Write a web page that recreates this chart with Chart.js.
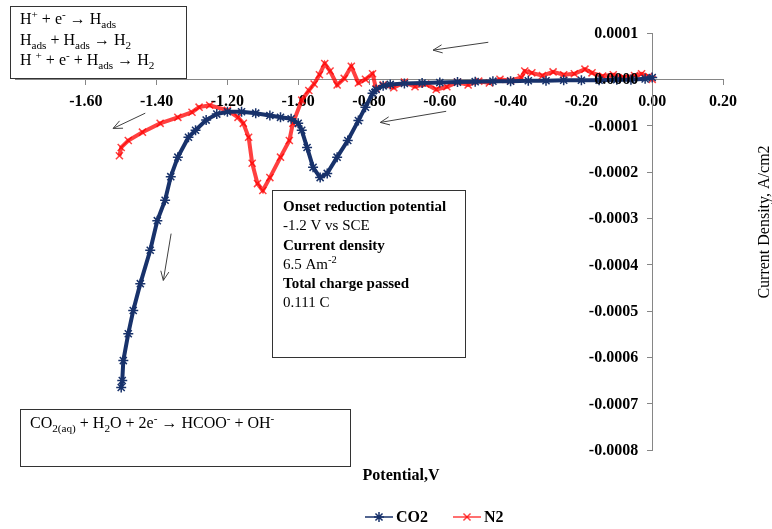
<!DOCTYPE html>
<html>
<head>
<meta charset="utf-8">
<script src="https://cdn.jsdelivr.net/npm/chart.js@4.4.1/dist/chart.umd.min.js"></script>
<style>
  html, body { margin: 0; padding: 0; background: #fff; }
  #wrap { width: 772px; height: 529px; position: relative; }
</style>
</head>
<body>
<div id="wrap"><canvas id="cv"></canvas></div>
<script>
// CO2 sweep (potential in V, current density in A/cm2)
const co2Potential = [0.00, -0.02, -0.06, -0.10, -0.15, -0.20, -0.25, -0.30, -0.35, -0.40, -0.45, -0.50, -0.55, -0.60, -0.65, -0.70, -0.74, -0.76, -0.78, -0.79, -0.81, -0.83, -0.86, -0.89, -0.918, -0.938, -0.958, -0.975, -0.99, -1.00, -1.02, -1.05, -1.08, -1.12, -1.16, -1.20, -1.23, -1.26, -1.29, -1.31, -1.34, -1.36, -1.376, -1.398, -1.418, -1.446, -1.466, -1.48, -1.494, -1.497, -1.50];
const co2Current = [0.000004, 0.000001, -0.000001, -0.000001, -0.000002, -0.000002, -0.000002, -0.000003, -0.000003, -0.000004, -0.000004, -0.000005, -0.000006, -0.000007, -0.000008, -0.000009, -0.000011, -0.000014, -0.000022, -0.000030, -0.000060, -0.000089, -0.000132, -0.000168, -0.000203, -0.000212, -0.000190, -0.000147, -0.000110, -0.000095, -0.000085, -0.000082, -0.000078, -0.000073, -0.000070, -0.000070, -0.000075, -0.000088, -0.000110, -0.000125, -0.000168, -0.000210, -0.000261, -0.000305, -0.000369, -0.000441, -0.000499, -0.000549, -0.000607, -0.000650, -0.000665];

// N2 sweep
const n2Potential = [0.00, -0.01, -0.03, -0.05, -0.08, -0.11, -0.14, -0.17, -0.19, -0.22, -0.25, -0.28, -0.31, -0.34, -0.36, -0.37, -0.40, -0.43, -0.46, -0.49, -0.52, -0.55, -0.58, -0.61, -0.64, -0.67, -0.70, -0.73, -0.76, -0.78, -0.79, -0.81, -0.83, -0.85, -0.87, -0.89, -0.91, -0.925, -0.94, -0.955, -0.97, -0.99, -1.015, -1.025, -1.05, -1.08, -1.10, -1.115, -1.13, -1.14, -1.155, -1.17, -1.20, -1.25, -1.28, -1.30, -1.34, -1.39, -1.44, -1.48, -1.50, -1.505];
const n2Current = [0.000000, 0.000006, 0.000012, 0.000008, 0.000004, 0.000010, 0.000007, 0.000014, 0.000022, 0.000012, 0.000010, 0.000016, 0.000008, 0.000014, 0.000018, 0.000004, -0.000003, 0.000000, -0.000008, -0.000004, -0.000012, -0.000006, -0.000016, -0.000022, -0.000010, -0.000016, -0.000006, -0.000018, -0.000012, -0.000020, 0.000012, 0.000000, -0.000008, 0.000028, 0.000002, -0.000012, 0.000018, 0.000034, 0.000010, -0.000010, -0.000024, -0.000045, -0.000095, -0.000132, -0.000168, -0.000212, -0.000240, -0.000225, -0.000181, -0.000125, -0.000095, -0.000082, -0.000067, -0.000056, -0.000060, -0.000071, -0.000082, -0.000095, -0.000114, -0.000132, -0.000147, -0.000165];

const seriesNames = ['CO2', 'N2'];
const xTickValues = [-1.6, -1.4, -1.2, -1.0, -0.8, -0.6, -0.4, -0.2, 0.0, 0.2];
const yTickValues = [0.0001, 0, -0.0001, -0.0002, -0.0003, -0.0004, -0.0005, -0.0006, -0.0007, -0.0008];

const NAVY = '#18326b';
const RED = 'rgba(255,0,0,0.75)';
const SERIF = '"Liberation Serif", "Times New Roman", serif';

// sweep-direction arrows, in data units [V1, J1, V2, J2] (head at the second end)
const arrows = [
  [-0.463, 0.000080, -0.619, 0.000063],
  [-1.432, -0.000073, -1.523, -0.000106],
  [-0.582, -0.000069, -0.768, -0.000093],
  [-1.359, -0.000333, -1.381, -0.000434]
];

const toPoints = (xs, ys) => xs.map((x, i) => ({ x: x, y: ys[i] }));

// draws text with sub/superscripts; parts = [[text, mode]] mode 1 = sup, -1 = sub
function rich(ctx, x, y, parts, size, weight) {
  let cx = x;
  parts.forEach(([t, m]) => {
    const s = m ? size * 0.7 : size;
    ctx.font = `${weight} ${s}px ${SERIF}`;
    const dy = m === 1 ? -size * 0.38 : m === -1 ? size * 0.24 : 0;
    ctx.fillText(t, cx, y + dy);
    cx += ctx.measureText(t).width;
  });
}

function arrow(ctx, x1, y1, x2, y2) {
  const a = Math.atan2(y2 - y1, x2 - x1);
  const h = 10, w = 0.42;
  ctx.beginPath();
  ctx.moveTo(x1, y1);
  ctx.lineTo(x2, y2);
  ctx.moveTo(x2 - h * Math.cos(a - w), y2 - h * Math.sin(a - w));
  ctx.lineTo(x2, y2);
  ctx.lineTo(x2 - h * Math.cos(a + w), y2 - h * Math.sin(a + w));
  ctx.stroke();
}

function box(ctx, x, y, w, h) {
  ctx.fillStyle = '#fff';
  ctx.fillRect(x, y, w, h);
  ctx.strokeStyle = '#333';
  ctx.lineWidth = 1;
  ctx.strokeRect(x + 0.5, y + 0.5, w, h);
}

const overlay = {
  id: 'overlay',
  afterDraw(chart) {
    const ctx = chart.ctx;
    const sx = chart.scales.x, sy = chart.scales.y;
    ctx.save();

    // y tick labels, left of the centred axis
    ctx.fillStyle = '#000';
    ctx.font = `bold 16px ${SERIF}`;
    ctx.textAlign = 'right';
    ctx.textBaseline = 'middle';
    const x0 = sx.getPixelForValue(0);
    yTickValues.forEach(v => {
      ctx.fillText(v.toFixed(4), x0 - 14, sy.getPixelForValue(v) + 1);
    });

    // arrows
    ctx.strokeStyle = '#404040';
    ctx.lineWidth = 1;
    arrows.forEach(a => arrow(ctx,
      sx.getPixelForValue(a[0]), sy.getPixelForValue(a[1]),
      sx.getPixelForValue(a[2]), sy.getPixelForValue(a[3])));

    ctx.textAlign = 'left';
    ctx.textBaseline = 'alphabetic';

    // reaction box, top left
    box(ctx, 10, 6, 176, 72);
    ctx.fillStyle = '#000';
    rich(ctx, 20, 24, [['H', 0], ['+', 1], [' + e', 0], ['-', 1], [' \u2192 H', 0], ['ads', -1]], 16, 'normal');
    rich(ctx, 20, 45, [['H', 0], ['ads', -1], [' + H', 0], ['ads', -1], [' \u2192 H', 0], ['2', -1]], 16, 'normal');
    rich(ctx, 20, 65, [['H ', 0], ['+', 1], [' + e', 0], ['-', 1], [' + H', 0], ['ads', -1], [' \u2192 H', 0], ['2', -1]], 16, 'normal');

    // info box, middle
    box(ctx, 272, 190, 193, 167);
    ctx.fillStyle = '#000';
    rich(ctx, 283, 211, [['Onset reduction potential', 0]], 15, 'bold');
    rich(ctx, 283, 230, [['-1.2 V vs SCE', 0]], 15, 'normal');
    rich(ctx, 283, 250, [['Current density', 0]], 15, 'bold');
    rich(ctx, 283, 269, [['6.5 Am', 0], ['-2', 1]], 15, 'normal');
    rich(ctx, 283, 288, [['Total charge passed', 0]], 15, 'bold');
    rich(ctx, 283, 307, [['0.111 C', 0]], 15, 'normal');

    // formate box, bottom left
    box(ctx, 20, 409, 330, 57);
    ctx.fillStyle = '#000';
    rich(ctx, 30, 428, [['CO', 0], ['2(aq)', -1], [' + H', 0], ['2', -1], ['O + 2e', 0], ['-', 1], [' \u2192 HCOO', 0], ['-', 1], [' + OH', 0], ['-', 1]], 16, 'normal');

    // axis titles
    ctx.fillStyle = '#000';
    ctx.font = `bold 16px ${SERIF}`;
    ctx.textAlign = 'center';
    ctx.textBaseline = 'middle';
    ctx.fillText('Potential,V', 401, 476);
    ctx.save();
    ctx.translate(765, 222);
    ctx.rotate(-Math.PI / 2);
    ctx.font = `16px ${SERIF}`;
    ctx.fillText('Current Density, A/cm2', 0, 0);
    ctx.restore();

    // legend: line with marker
    const items = [
      { x: 365, color: NAVY, style: 'star', text: seriesNames[0] },
      { x: 453, color: RED, style: 'crossRot', text: seriesNames[1] }
    ];
    items.forEach(it => {
      ctx.strokeStyle = it.color;
      ctx.lineWidth = 1.5;
      ctx.beginPath();
      ctx.moveTo(it.x, 517);
      ctx.lineTo(it.x + 28, 517);
      ctx.stroke();
      Chart.helpers.drawPoint(ctx, { pointStyle: it.style, radius: 5, borderWidth: 1.5 }, it.x + 14, 517);
      ctx.fillStyle = '#000';
      ctx.font = `bold 16px ${SERIF}`;
      ctx.textAlign = 'left';
      ctx.fillText(it.text, it.x + 31, 518);
    });

    ctx.restore();
  }
};

new Chart(document.getElementById('cv'), {
  type: 'scatter',
  data: {
    datasets: [
      {
        label: seriesNames[0],
        data: toPoints(co2Potential, co2Current),
        showLine: true,
        borderColor: NAVY,
        backgroundColor: NAVY,
        borderWidth: 4,
        pointStyle: 'star',
        pointRadius: 5,
        pointBorderWidth: 1.5,
        pointBorderColor: NAVY
      },
      {
        label: seriesNames[1],
        data: toPoints(n2Potential, n2Current),
        showLine: true,
        borderColor: RED,
        backgroundColor: RED,
        borderWidth: 4,
        pointStyle: 'crossRot',
        pointRadius: 5,
        pointBorderWidth: 1.5,
        pointBorderColor: RED
      }
    ]
  },
  options: {
    responsive: true,
    maintainAspectRatio: false,
    animation: false,
    layout: { padding: { left: 15, right: 49, top: 33, bottom: 79 } },
    plugins: {
      legend: { display: false },
      tooltip: { enabled: false }
    },
    scales: {
      x: {
        type: 'linear',
        min: -1.8,
        max: 0.2,
        position: { y: 0 },
        afterBuildTicks: s => { s.ticks = xTickValues.map(v => ({ value: v })); },
        afterFit: s => { s.height = 0; },
        grid: { drawOnChartArea: false, drawTicks: true, tickLength: 5, color: '#868686' },
        border: { color: '#868686' },
        ticks: {
          padding: 8,
          color: '#000',
          font: { family: SERIF, size: 16, weight: 'bold' },
          callback: v => v.toFixed(2)
        }
      },
      y: {
        type: 'linear',
        min: -0.0008,
        max: 0.0001,
        position: { x: 0 },
        afterBuildTicks: s => { s.ticks = yTickValues.map(v => ({ value: v })); },
        afterFit: s => { s.width = 0; },
        grid: { drawOnChartArea: false, drawTicks: true, tickLength: 5, color: '#868686' },
        border: { color: '#868686' },
        ticks: { display: false }
      }
    }
  },
  plugins: [overlay]
});
</script>
</body>
</html>
